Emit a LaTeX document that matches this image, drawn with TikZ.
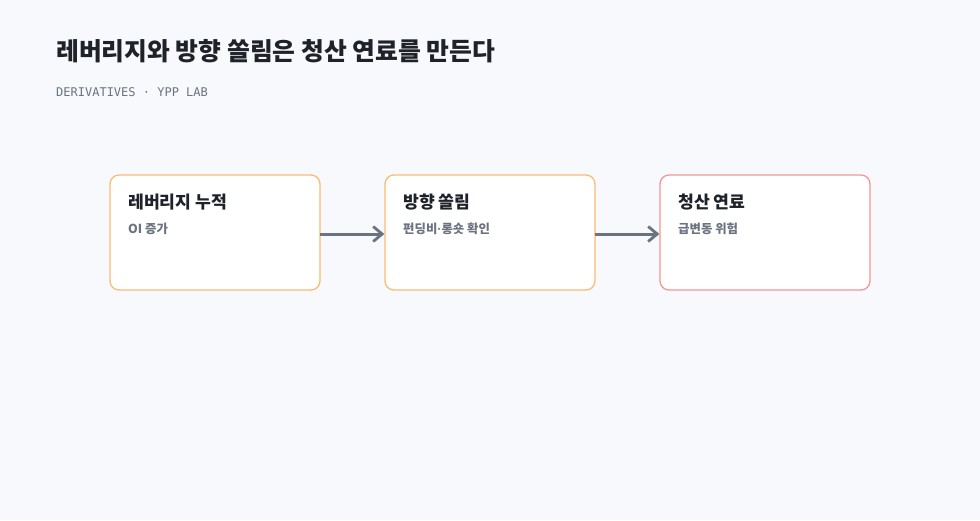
\documentclass[tikz,border=0pt]{standalone}
\usepackage{fontspec}
\setmainfont{Noto Sans CJK KR}
\setmonofont{DejaVu Sans Mono}
\newfontfamily\dotfont{Liberation Sans}
\definecolor{pageBg}{RGB}{248, 249, 252}
\definecolor{inkDark}{RGB}{31, 35, 41}
\definecolor{inkGray}{RGB}{107, 114, 128}
\definecolor{edgeOrange}{RGB}{253, 186, 116}
\definecolor{edgeRed}{RGB}{248, 148, 148}
\usepackage{tikz}
\usetikzlibrary{positioning,calc,arrows.meta}

\begin{document}
\begin{tikzpicture}[
                x=1pt,y=-1pt,
                stage/.style={draw=edgeOrange,line width=1.3pt,fill=white,rounded corners=9pt,
                              minimum width=210pt,minimum height=115pt,inner sep=0pt},
                stagetitle/.style={anchor=west,inner sep=0pt,font=\fontsize{17.2}{19}\selectfont\bfseries,text=inkDark},
                stagenote/.style={anchor=west,inner sep=0pt,font=\fontsize{12.4}{14}\selectfont\bfseries,text=inkGray},
                flow/.style={draw=inkGray,line width=3pt,-{Straight Barb[length=9pt,width=15pt,line width=2.8pt]}}
            ]
                \fill[pageBg] (0,0) rectangle (980,520);
                \useasboundingbox (0,0) rectangle (980,520);

                \node[anchor=west,inner sep=0pt,font=\fontsize{24.8}{28}\selectfont\bfseries,text=inkDark]
                    (title) at (56,51) {레버리지와 방향 쏠림은 청산 연료를 만든다};
                \node[anchor=west,inner sep=0pt,font=\ttfamily\fontsize{12}{14}\selectfont,text=inkGray]
                    (tag) at (56,92) {DERIVATIVES · YPP LAB};

                \node[stage] (lev) at (215,232.5) {};
                \node[stage] (dir) at (490,232.5) {};
                \node[stage,draw=edgeRed] (liq) at (765,232.5) {};

                \node[stagetitle] (levT) at (128,202) {레버리지 누적};
                \node[stagenote] (levN) at (128,229) {OI 증가};
                \node[stagetitle] (dirT) at (403,202) {방향 쏠림};
                \node[stagenote] (dirN) at (403,229) {펀딩비{\dotfont\bfseries ·}롱숏 확인};
                \node[stagetitle] (liqT) at (678,202) {청산 연료};
                \node[stagenote] (liqN) at (678,229) {급변동 위험};

                \draw[flow] (lev.east) ++(-1,1.5) -- ($(dir.west)+(0,1.5)$);
                \draw[flow] (dir.east) ++(-1,1.5) -- ($(liq.west)+(0,1.5)$);
            \end{tikzpicture}
\end{document}
